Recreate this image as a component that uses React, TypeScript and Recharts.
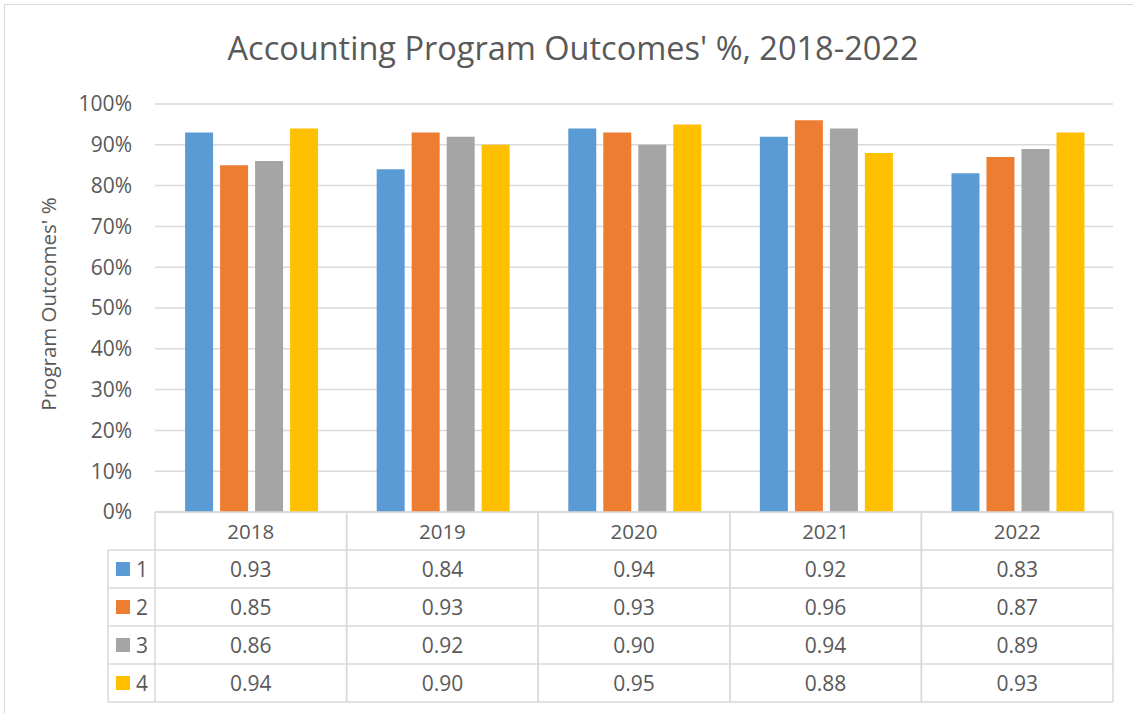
import React from "react";
import { BarChart, Bar, XAxis, YAxis, CartesianGrid } from "recharts";

const years = ["2018", "2019", "2020", "2021", "2022"];
const outcome1 = [0.93, 0.84, 0.94, 0.92, 0.83];
const outcome2 = [0.85, 0.93, 0.93, 0.96, 0.87];
const outcome3 = [0.86, 0.92, 0.9, 0.94, 0.89];
const outcome4 = [0.94, 0.9, 0.95, 0.88, 0.93];
const seriesNames = ["1", "2", "3", "4"];
const yTicks = [0, 0.1, 0.2, 0.3, 0.4, 0.5, 0.6, 0.7, 0.8, 0.9, 1];

const colors = ["#5B9BD5", "#ED7D31", "#A5A5A5", "#FFC000"];
const FONT = "'Open Sans', sans-serif";
const TEXT = "#595959";
const LINE = "#D9D9D9";
const ROW = 38;

const allSeries = [outcome1, outcome2, outcome3, outcome4];
const data = years.map((y, i) => ({
  year: y,
  s1: outcome1[i],
  s2: outcome2[i],
  s3: outcome3[i],
  s4: outcome4[i],
}));

// each x tick draws one column of the data table under its category
const TableTick = (props: any) => {
  const { x, y, payload, index } = props;
  const half = payload.offset;
  const left = x - half;
  const right = x + half;
  const bottom = y + ROW * 5;
  return (
    <g>
      <line x1={left} y1={y} x2={left} y2={bottom} stroke={LINE} strokeWidth={1.5} />
      <line x1={right} y1={y} x2={right} y2={bottom} stroke={LINE} strokeWidth={1.5} />
      {[1, 2, 3, 4, 5].map((r) => (
        <line key={r} x1={left} y1={y + ROW * r} x2={right} y2={y + ROW * r} stroke={LINE} strokeWidth={1.5} />
      ))}
      <text x={x} y={y + ROW / 2} textAnchor="middle" dominantBaseline="central" fill={TEXT} fontSize={20.5} fontFamily={FONT}>
        {payload.value}
      </text>
      {allSeries.map((s, r) => (
        <text key={r} x={x} y={y + ROW * (r + 1.5)} textAnchor="middle" dominantBaseline="central" fill={TEXT} fontSize={21} fontFamily={FONT}>
          {s[index].toFixed(2)}
        </text>
      ))}
      {index === 0 && (
        <g>
          <line x1={left - 47} y1={y + ROW} x2={left} y2={y + ROW} stroke={LINE} strokeWidth={1.5} />
          <line x1={left - 47} y1={y + ROW} x2={left - 47} y2={bottom} stroke={LINE} strokeWidth={1.5} />
          {seriesNames.map((n, r) => (
            <g key={n}>
              <line x1={left - 47} y1={y + ROW * (r + 2)} x2={left} y2={y + ROW * (r + 2)} stroke={LINE} strokeWidth={1.5} />
              <rect x={left - 39} y={y + ROW * (r + 1.5) - 7} width={14} height={14} fill={colors[r]} />
              <text x={left - 19} y={y + ROW * (r + 1.5)} dominantBaseline="central" fill={TEXT} fontSize={21} fontFamily={FONT}>
                {n}
              </text>
            </g>
          ))}
        </g>
      )}
    </g>
  );
};

const YTitle = (props: any) => {
  const { viewBox } = props;
  const cx = viewBox.x + 48;
  const cy = 304;
  return (
    <text x={cx} y={cy} transform={`rotate(-90 ${cx} ${cy})`} textAnchor="middle" dominantBaseline="central" fill={TEXT} fontSize={20.5} fontFamily={FONT}>
      Program Outcomes' %
    </text>
  );
};

export default function App() {
  return (
    <div style={{ position: "absolute", left: 0, top: 0, width: 1133, height: 713, background: "#fff", overflow: "hidden" }}>
      <div style={{ position: "absolute", left: 4, top: 4, width: 1140, height: 720, border: "1.5px solid #D9D9D9" }} />
      <div
        style={{
          position: "absolute",
          left: 0,
          top: 24,
          width: 1146,
          textAlign: "center",
          fontFamily: FONT,
          fontSize: 32.5,
          color: TEXT,
          lineHeight: "48px",
        }}
      >
        Accounting Program Outcomes' %, 2018-2022
      </div>
      <div style={{ position: "absolute", left: 0, top: 0 }}>
        <BarChart
          width={1133}
          height={713}
          data={data}
          margin={{ top: 104, right: 20, bottom: 0, left: 0 }}
          barCategoryGap="15.7%"
          barGap={7}
        >
          <CartesianGrid vertical={false} stroke={LINE} strokeWidth={1.5} />
          <XAxis
            dataKey="year"
            height={201}
            tickSize={0}
            tickMargin={0}
            axisLine={{ stroke: LINE, strokeWidth: 1.5 }}
            tickLine={false}
            tick={<TableTick />}
            interval={0}
          />
          <YAxis
            width={155}
            domain={[0, 1]}
            ticks={yTicks}
            tickFormatter={(v: number) => `${Math.round(v * 100)}%`}
            axisLine={false}
            tickLine={false}
            tickSize={0}
            tickMargin={23}
            tick={{ fill: TEXT, fontSize: 21, fontFamily: FONT }}
            label={<YTitle />}
          />
          {["s1", "s2", "s3", "s4"].map((k, i) => (
            <Bar key={k} dataKey={k} name={seriesNames[i]} fill={colors[i]} isAnimationActive={false} />
          ))}
        </BarChart>
      </div>
    </div>
  );
}
